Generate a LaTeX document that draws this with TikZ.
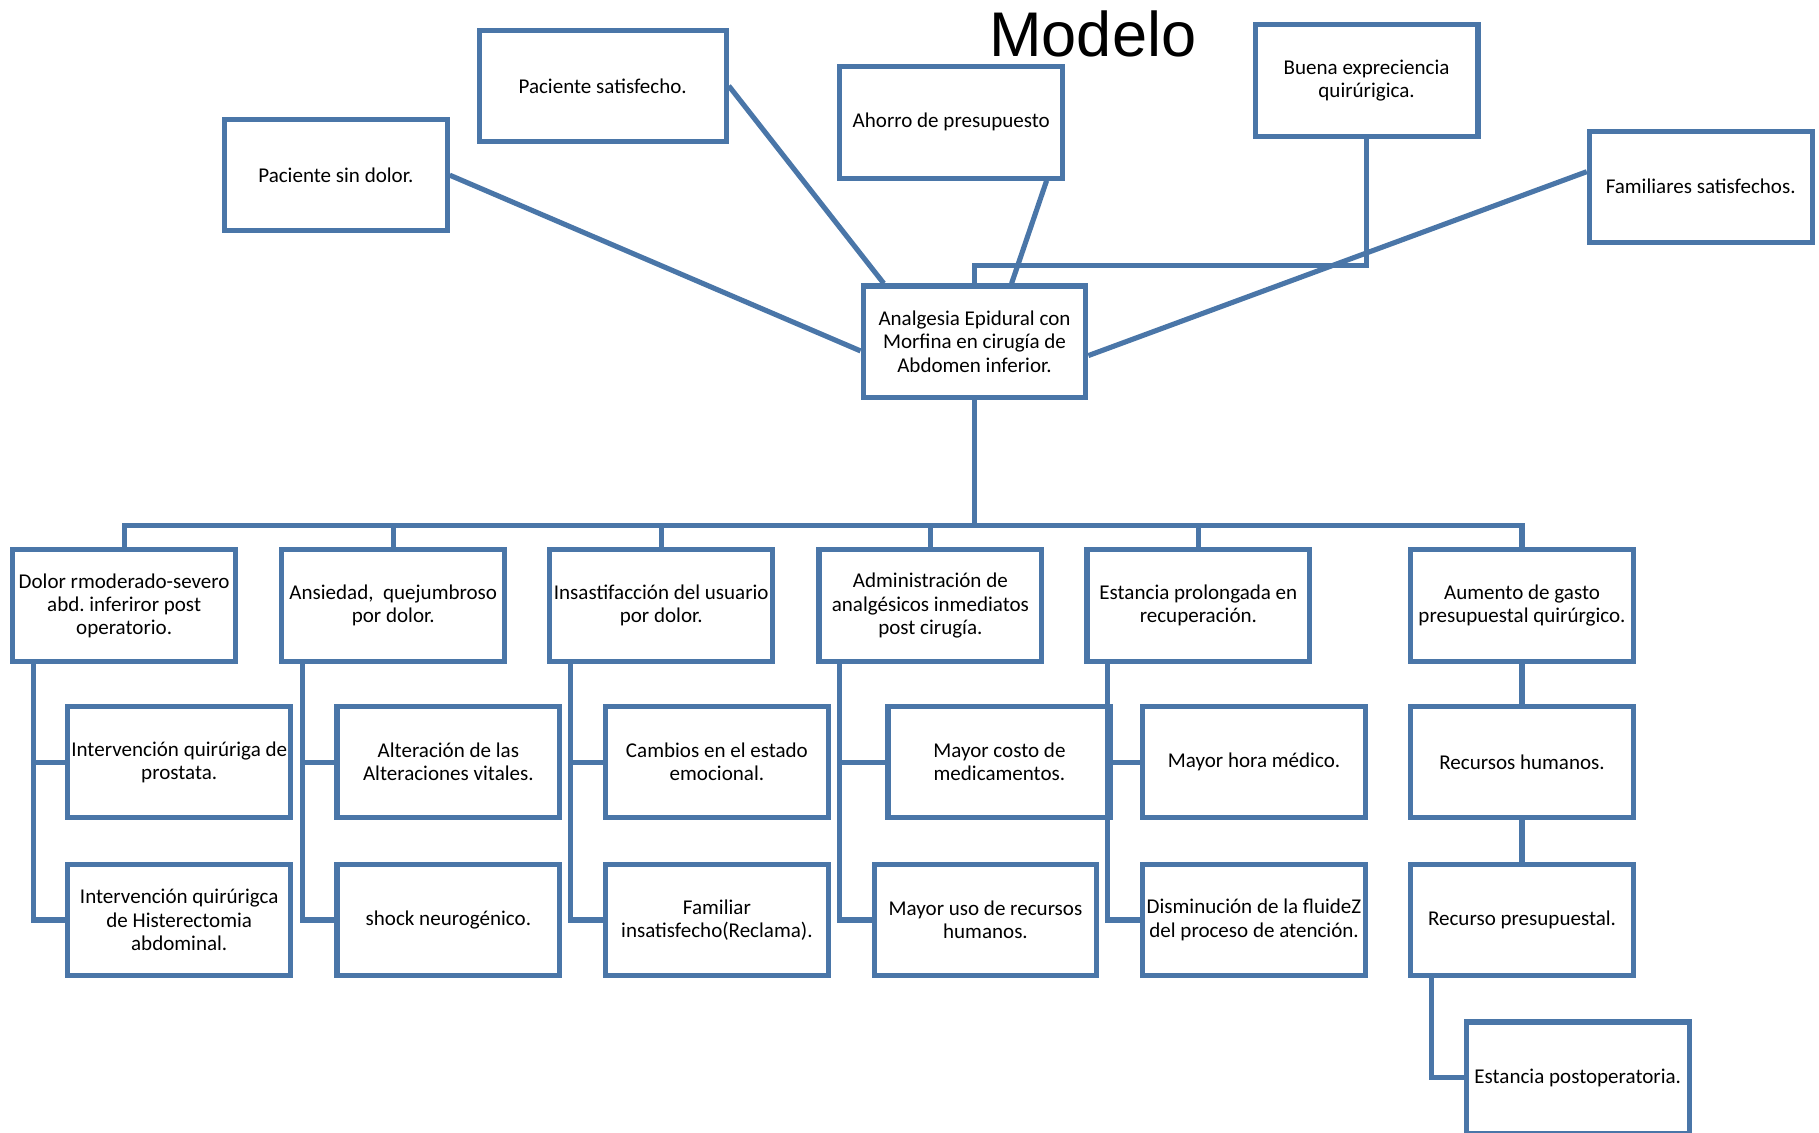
\documentclass[tikz,border=0pt]{standalone}
\usepackage{fontspec}
\setmainfont{Carlito}
\newfontfamily\titlefont{Liberation Sans}
\usepackage{xcolor}
\usepackage{tikz}
\definecolor{azul}{RGB}{74,118,168}
\frenchspacing

\begin{document}
\begin{tikzpicture}[
    x=0.25mm, y=-0.25mm,
    bloque/.style={rectangle, draw=azul, fill=white, line width=1.1mm,
                   minimum width=48mm, minimum height=24mm, inner sep=0pt,
                   align=center, font=\fontsize{12.9}{14.2}\selectfont},
    titulo/.style={font=\titlefont\fontsize{38.7}{40}\selectfont},
    linea/.style={draw=azul, line width=1.1mm}
  ]
  \useasboundingbox (0,0) rectangle (1568,976);

  % title
  \node[titulo] (tit) at (942,29) {Modelo};

  % nodes (top)
  \node[bloque] (cen) at (840,294.5) {Analgesia Epidural con\\Morfina en cirugía de\\Abdomen inferior.};
  \node[bloque] (psd) at (289.5,151) {Paciente sin dolor.};
  \node[bloque, minimum width=53.25mm] (ps) at (519.5,74) {Paciente satisfecho.};
  \node[bloque] (ah) at (820,105.5) {Ahorro de presupuesto};
  \node[bloque] (bu) at (1178,69.5) {Buena expreciencia\\quirúrigica.};
  \node[bloque] (fa) at (1466,161) {Familiares satisfechos.};

  % nodes (first row)
  \node[bloque] (a1) at (107,522) {Dolor rmoderado-severo\\abd. inferiror post\\operatorio.};
  \node[bloque] (a2) at (339,522) {Ansiedad,\ \ quejumbroso\\por dolor.};
  \node[bloque] (a3) at (570,522) {Insastifacción del usuario\\por dolor.};
  \node[bloque] (a4) at (802,522) {Administración de\\analgésicos inmediatos\\post cirugía.};
  \node[bloque] (a5) at (1033,522) {Estancia prolongada en\\recuperación.};
  \node[bloque] (a6) at (1312,522) {Aumento de gasto\\presupuestal quirúrgico.};

  % nodes (second row)
  \node[bloque] (b1) at (154.5,657) {Intervención quirúriga de\\prostata.};
  \node[bloque] (b2) at (386.5,657) {Alteración de las\\Alteraciones vitales.};
  \node[bloque] (b3) at (618,657) {Cambios en el estado\\emocional.};
  \node[bloque] (b4) at (861.5,657) {Mayor costo de\\medicamentos.};
  \node[bloque] (b5) at (1081,657) {Mayor hora médico.};
  \node[bloque] (b6) at (1312,657) {Recursos humanos.};

  % nodes (third row)
  \node[bloque] (c1) at (154.5,793) {Intervención quirúrigca\\de Histerectomia\\abdominal.};
  \node[bloque] (c2) at (386.5,793) {shock neurogénico.};
  \node[bloque] (c3) at (618,793) {Familiar\\insatisfecho(Reclama).};
  \node[bloque] (c4) at (849.5,793) {Mayor uso de recursos\\humanos.};
  \node[bloque] (c5) at (1081,793) {Disminución de la fluideZ\\del proceso de atención.};
  \node[bloque] (c6) at (1312,793) {Recurso presupuestal.};

  \node[bloque] (d6) at (1360,929) {Estancia postoperatoria.};

  % top links
  \draw[linea] (psd.east) -- ([yshift=-2mm]cen.west);
  \draw[linea] (ps.east) -- ([xshift=5mm]cen.north west);
  \draw[linea] ([xshift=-4mm]ah.south east) -- ([xshift=8mm]cen.north);
  \draw[linea] (bu.south) -- ++(0,109) -| (cen.north);
  \draw[linea] ([yshift=3.25mm]fa.west) -- ([yshift=-3mm]cen.east);

  % bus
  \coordinate (bus) at (840,453);
  \draw[linea] (cen.south) -- (bus);
  \draw[linea] (a1.north) |- (bus);
  \draw[linea] (a2.north) |- (bus);
  \draw[linea] (a3.north) |- (bus);
  \draw[linea] (a4.north) |- (bus);
  \draw[linea] (a5.north) |- (bus);
  \draw[linea] (a6.north) |- (bus);

  % branches
  \draw[linea] ([xshift=5mm]a1.south west) |- (b1.west);
  \draw[linea] ([xshift=5mm]a1.south west) |- (c1.west);
  \draw[linea] ([xshift=5mm]a2.south west) |- (b2.west);
  \draw[linea] ([xshift=5mm]a2.south west) |- (c2.west);
  \draw[linea] ([xshift=5mm]a3.south west) |- (b3.west);
  \draw[linea] ([xshift=5mm]a3.south west) |- (c3.west);
  \draw[linea] ([xshift=5mm]a4.south west) |- (b4.west);
  \draw[linea] ([xshift=5mm]a4.south west) |- (c4.west);
  \draw[linea] ([xshift=5mm]a5.south west) |- (b5.west);
  \draw[linea] ([xshift=5mm]a5.south west) |- (c5.west);
  \draw[linea] (a6) -- (b6);
  \draw[linea] (b6) -- (c6);
  \draw[linea] ([xshift=5mm]c6.south west) |- (d6.west);
\end{tikzpicture}
\end{document}
